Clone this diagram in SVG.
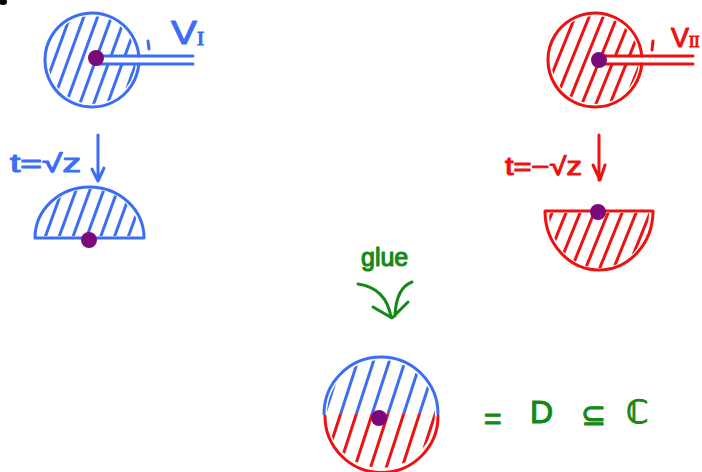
<svg xmlns="http://www.w3.org/2000/svg" width="702" height="472" viewBox="0 0 702 472">
<style>
.b{stroke:#3b6ef5}.r{stroke:#ee1111}.g{stroke:#148a14}
.o{fill:none;stroke-width:3;stroke-linecap:round;stroke-linejoin:round}
.dot{fill:#7a0a7a}
.tb{fill:#3b6ef5;stroke:#3b6ef5}.tr{fill:#ee1111;stroke:#ee1111}.tg{fill:#148a14;stroke:#148a14}
text{font-family:"Liberation Sans","DejaVu Sans",sans-serif;stroke-width:1.1;stroke-linejoin:round}
.sf{font-family:"Liberation Serif","DejaVu Serif",serif}
</style>
<defs>
<pattern id="hb" patternUnits="userSpaceOnUse" width="13" height="13" patternTransform="rotate(20)"><line x1="6.5" y1="0" x2="6.5" y2="13" stroke="#3b6ef5" stroke-width="3"/></pattern>
<pattern id="hr" patternUnits="userSpaceOnUse" width="13" height="13" patternTransform="rotate(22)"><line x1="6.5" y1="0" x2="6.5" y2="13" stroke="#ee1111" stroke-width="3"/></pattern>
<pattern id="hb2" patternUnits="userSpaceOnUse" width="15" height="15" patternTransform="translate(380 414) rotate(18)"><line x1="7.5" y1="0" x2="7.5" y2="15" stroke="#3b6ef5" stroke-width="3"/></pattern>
<pattern id="hr2" patternUnits="userSpaceOnUse" width="15" height="15" patternTransform="translate(380 414) rotate(18)"><line x1="7.5" y1="0" x2="7.5" y2="15" stroke="#ee1111" stroke-width="3"/></pattern>
</defs>
<rect width="702" height="472" fill="#fff"/>
<ellipse cx="3" cy="2" rx="4" ry="3" fill="#000"/>

<g id="disk-VI">
<circle cx="92" cy="60" r="44" fill="url(#hb)"/>
<rect x="96" y="57" width="50" height="6" fill="#fff"/>
<path class="o b" d="M138.8 56 A47 47 0 1 0 138.8 64"/>
<path class="o b" d="M96 56 H193 M96 64 H193"/>
<line class="o b" x1="148" y1="41" x2="149" y2="49"/>
<circle class="dot" cx="96" cy="58" r="8"/>
<text class="tb" x="171" y="44" font-size="33" textLength="33" lengthAdjust="spacingAndGlyphs">V<tspan class="sf" font-size="18" dy="1">I</tspan></text>
</g>

<g id="disk-VII">
<circle cx="595" cy="60" r="44" fill="url(#hr)"/>
<rect x="599" y="57" width="50" height="6" fill="#fff"/>
<path class="o r" d="M641.8 56 A47 47 0 1 0 641.8 64"/>
<path class="o r" d="M599 56 H693 M599 64 H693"/>
<line class="o r" x1="653" y1="41" x2="652" y2="50"/>
<circle class="dot" cx="599" cy="60" r="8"/>
<text class="tr" x="671" y="47" font-size="27">V<tspan class="sf" font-size="16" dy="0">II</tspan></text>
</g>

<g id="upper-half">
<path fill="url(#hb)" d="M39 236 A50.5 47 0 0 1 140 236 Z"/>
<path class="o b" d="M35 238 A54.5 51 0 0 1 144 238 Z"/>
<circle class="dot" cx="89" cy="240" r="8"/>
<text class="tb" x="10" y="172" font-size="25" textLength="71" lengthAdjust="spacingAndGlyphs">t=√z</text>
</g>

<g id="lower-half">
<path fill="url(#hr)" d="M549 213 A50 55 0 0 0 649 213 Z"/>
<path class="o r" d="M545 211 A54 59 0 0 0 653 211 Z"/>
<circle class="dot" cx="598" cy="212" r="8"/>
<text class="tr" x="505" y="175" font-size="25" textLength="77" lengthAdjust="spacingAndGlyphs">t=−√z</text>
</g>

<g id="glue-label">
<text class="tg" x="361" y="266" font-size="25">glue</text>
</g>

<g id="connectors">
<path class="o b" d="M98 135 V180 M92 169 L98 181 L104 168"/>
<path class="o r" d="M599 135 V180 M593 165 L600 180 L605 165"/>
<path class="o g" d="M358 284 Q386 288 391 317 M373 307 L392 318 L408 302 M412 282 Q396 288 395 316"/>
</g>

<g id="result">
<path fill="url(#hb2)" d="M327 414 A54 54 0 0 1 435 414 Z"/>
<path fill="url(#hr2)" d="M327 414 A54 54 0 0 0 435 414 Z"/>
<path class="o b" d="M324 414 A57 57 0 0 1 438 414"/>
<path class="o r" d="M325 416 A56.5 56.5 0 0 0 438 416"/>
<circle class="dot" cx="379" cy="418" r="8"/>
<text class="tg" x="484" y="429" font-size="30">=</text>
<text class="tg" x="530" y="423" font-size="32">D</text>
<text class="tg" x="581" y="425" font-size="30">⊆</text>
<text class="tg" x="626" y="423" font-size="32">ℂ</text>
</g>
</svg>
